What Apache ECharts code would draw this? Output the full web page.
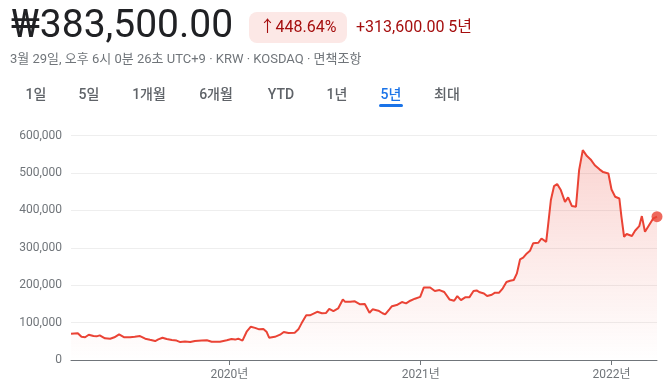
<!DOCTYPE html>
<html><head><meta charset="utf-8">
<script src="https://cdn.jsdelivr.net/npm/echarts@6/dist/echarts.min.js"></script>
<style>html,body{margin:0;padding:0;background:#fff}#c{width:670px;height:390px}</style>
</head><body><div id="c"></div>
<script>
const dates = ['2019-03-04','2019-03-17','2019-03-24','2019-03-31','2019-04-07','2019-04-16','2019-04-22','2019-04-28','2019-05-08','2019-05-18','2019-05-26','2019-06-04','2019-06-14','2019-06-25','2019-07-04','2019-07-14','2019-07-24','2019-08-02','2019-08-12','2019-08-18','2019-08-26','2019-09-03','2019-09-13','2019-09-22','2019-09-29','2019-10-08','2019-10-18','2019-10-27','2019-11-09','2019-11-19','2019-11-28','2019-12-14','2019-12-27','2020-01-05','2020-01-12','2020-01-18','2020-01-26','2020-02-03','2020-02-11','2020-02-19','2020-02-27','2020-03-06','2020-03-12','2020-03-17','2020-03-28','2020-04-07','2020-04-14','2020-04-23','2020-05-05','2020-05-12','2020-05-18','2020-05-27','2020-06-03','2020-06-10','2020-06-17','2020-06-26','2020-07-04','2020-07-10','2020-07-18','2020-07-27','2020-08-05','2020-08-09','2020-08-19','2020-08-28','2020-09-07','2020-09-16','2020-09-25','2020-10-01','2020-10-12','2020-10-20','2020-10-25','2020-11-02','2020-11-07','2020-11-16','2020-11-26','2020-12-04','2020-12-12','2020-12-21','2020-12-31','2021-01-07','2021-01-19','2021-01-28','2021-02-06','2021-02-15','2021-02-25','2021-03-06','2021-03-12','2021-03-19','2021-03-27','2021-04-04','2021-04-12','2021-04-18','2021-04-24','2021-05-02','2021-05-08','2021-05-17','2021-05-23','2021-05-31','2021-06-07','2021-06-14','2021-06-21','2021-06-28','2021-07-04','2021-07-10','2021-07-16','2021-07-23','2021-07-29','2021-08-04','2021-08-14','2021-08-20','2021-08-29','2021-09-02','2021-09-07','2021-09-13','2021-09-19','2021-09-26','2021-10-04','2021-10-10','2021-10-17','2021-10-25','2021-10-31','2021-11-07','2021-11-15','2021-11-22','2021-11-30','2021-12-09','2021-12-16','2021-12-26','2022-01-01','2022-01-08','2022-01-16','2022-01-20','2022-01-25','2022-01-30','2022-02-02','2022-02-09','2022-02-15','2022-02-23','2022-02-28','2022-03-06','2022-03-14','2022-03-22','2022-03-29'];
const prices = [69900,71400,62000,60700,67700,64000,63300,66000,58000,57000,60700,68700,60700,60700,62000,64000,57000,54000,50800,55300,59600,56000,53500,52000,48000,49500,48000,51000,52000,52600,49000,49000,52600,56000,54600,57000,52000,75700,89000,86000,82000,83000,75700,59700,62000,67700,75000,72000,73000,82000,98000,119500,119500,124000,129000,125000,126000,137000,131000,138000,162000,156000,156000,157000,149000,150000,126500,135500,132000,125000,122000,135500,144000,147000,155000,151500,158600,164000,169000,194000,194000,184500,187000,182000,162000,158600,171000,160000,167600,167600,184500,186000,181000,178000,171000,174600,180000,180000,191700,208600,212000,214000,231800,269000,273600,285000,292000,312000,313600,325000,316000,365000,428000,465000,470600,454500,423000,435000,412000,410000,508000,561500,545500,536600,521000,510000,502700,499000,456000,436600,432000,383000,329700,337000,338800,331600,345700,358000,385000,343000,361000,379000,383500];
const yearTicks = ['2020-01-01','2021-01-01','2022-01-01'];
const rangeStart = '2019-03-04', rangeEnd = '2022-03-29';
const tabs = ['1일','5일','1개월','6개월','YTD','1년','5년','최대'];
const priceText = '₩383,500.00';
const changePct = '↑448.64%';
const changeAbs = '+313,600.00 5년';
const subtitle = '3월 29일, 오후 6시 0분 26초 UTC+9 · KRW · KOSDAQ · 면책조항';

const FF = 'Roboto, "Noto Sans CJK KR", sans-serif';
const pts = dates.map((d,i)=>[Date.parse(d), prices[i]]);
const last = pts[pts.length-1];
const tabX = [36,89,149,216,281,337,391,447];
const tickVals = yearTicks.map(d=>Date.parse(d));

const graphics = [
  {type:'text', left:11, top:8, style:{text:priceText, font:'400 39px '+FF, fill:'#202124'}},
  {type:'rect', shape:{x:249,y:12,width:98,height:31,r:8}, style:{fill:'#fce8e6'}},
  {type:'text', x:298, y:28, style:{text:changePct, font:'400 16px '+FF, fill:'#a50e0e', align:'center', verticalAlign:'middle'}},
  {type:'text', x:356, y:28, style:{text:changeAbs, font:'400 16px '+FF, fill:'#a50e0e', align:'left', verticalAlign:'middle'}},
  {type:'text', x:10, y:60, style:{text:subtitle, font:'400 13px '+FF, fill:'#70757a', align:'left', verticalAlign:'middle'}},
  {type:'rect', shape:{x:379,y:104,width:24,height:3,r:1.5}, style:{fill:'#1a73e8'}}
];
tabs.forEach((t,i)=>{
  graphics.push({type:'text', x:tabX[i], y:95, style:{text:t, font:'500 14px '+FF, fill: t==='5년' ? '#1a73e8' : '#5f6368', align:'center', verticalAlign:'middle'}});
});

const chart = echarts.init(document.getElementById('c'));
chart.setOption({
  animation:false,
  grid:{left:71, right:13, top:135.7, bottom:30},
  graphic: graphics,
  xAxis:{
    type:'value', min:Date.parse(rangeStart), max:Date.parse(rangeEnd),
    axisLine:{show:true, onZero:false, lineStyle:{color:'#70757a', width:1}},
    axisTick:{show:true, length:5, lineStyle:{color:'#70757a'}, customValues: tickVals},
    axisLabel:{customValues: tickVals, color:'#70757a', fontSize:12, fontFamily:FF, margin:9,
      formatter: v => new Date(v).getUTCFullYear() + '년'},
    splitLine:{show:false}
  },
  yAxis:{
    type:'value', min:0, max:600000, interval:100000,
    axisLine:{show:false}, axisTick:{show:false},
    axisLabel:{color:'#70757a', fontSize:12, fontFamily:FF, margin:9,
      formatter: v => v.toLocaleString('en-US')},
    splitLine:{lineStyle:{color:'#eeeeee', width:1}}
  },
  series:[
    {type:'line', data:pts, showSymbol:false, symbol:'none', smooth:false,
      lineStyle:{color:'#ea4335', width:2},
      areaStyle:{color:new echarts.graphic.LinearGradient(0,0,0,1,[
        {offset:0, color:'rgba(234,67,53,0.32)'},
        {offset:1, color:'rgba(234,67,53,0.0)'}])},
      z:2},
    {type:'scatter', data:[last], symbol:'circle', symbolSize:11, itemStyle:{color:'#ea4335'}, z:3}
  ]
});
</script></body></html>
